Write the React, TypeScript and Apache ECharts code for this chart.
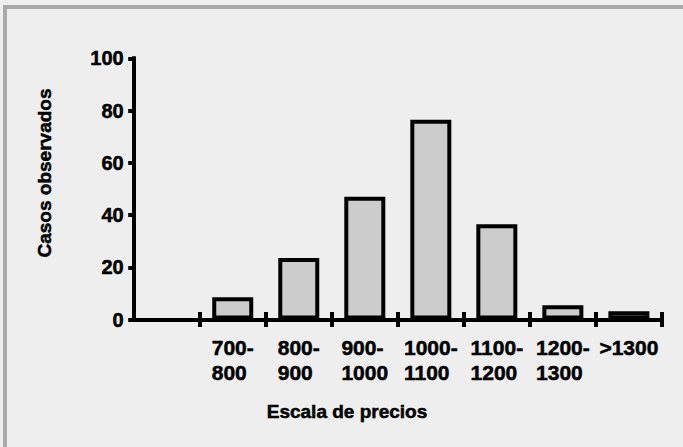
import React, { useEffect, useRef } from "react";
import * as echarts from "echarts";

const categories = ["", "700-\n800", "800-\n900", "900-\n1000", "1000-\n1100", "1100-\n1200", "1200-\n1300", ">1300"];
const counts: (number | string)[] = ["-", 8.5, 23.5, 47, 76.5, 36.5, 5.5, 3.2];
const yMin = 0;
const yMax = 100;
const yStep = 20;
const yTitle = "Casos observados";
const xTitle = "Escala de precios";

const FONT = "'Liberation Sans', Arial, Helvetica, sans-serif";
const HEAVY = { textBorderColor: "#000", textBorderWidth: 0.5 };

export default function App() {
  const ref = useRef<HTMLDivElement>(null);
  useEffect(() => {
    if (!ref.current) return;
    const chart = echarts.init(ref.current, undefined, { renderer: "svg" });
    const gridLeft = 133.7;
    const gridTop = 58.3;
    const gridW = 528.2;
    const gridH = 261.2;
    chart.setOption({
      animation: false,
      backgroundColor: "#eeeeee",
      grid: { left: gridLeft, top: gridTop, width: gridW, height: gridH, containLabel: false },
      xAxis: [
        {
          type: "category",
          data: categories,
          boundaryGap: true,
          axisLine: { show: true, lineStyle: { color: "#000", width: 4, cap: "square" } },
          axisTick: {
            show: true,
            length: 7.5,
            inside: false,
            interval: (i: number) => i !== 0,
            lineStyle: { color: "#000", width: 4 },
          },
          axisLabel: {
            margin: 15,
            interval: 0,
            color: "#000",
            fontFamily: FONT,
            fontWeight: "bold",
            fontSize: 21,
            lineHeight: 25,
            formatter: (v: string) =>
              v
                .split("\n")
                .map((l) => `{a|${l}}`)
                .join("\n"),
            rich: {
              a: {
                align: "left",
                color: "#000",
                fontFamily: FONT,
                fontWeight: "bold",
                fontSize: 21,
                lineHeight: 25,
                ...HEAVY,
              },
            },
          },
          splitLine: { show: false },
        },
        {
          type: "category",
          data: categories,
          position: "bottom",
          boundaryGap: true,
          axisLine: { show: false },
          axisTick: {
            show: true,
            length: 7.5,
            inside: true,
            interval: (i: number) => i !== 0,
            lineStyle: { color: "#000", width: 4 },
          },
          axisLabel: { show: false },
          splitLine: { show: false },
        },
      ],
      yAxis: {
        type: "value",
        min: yMin,
        max: yMax,
        interval: yStep,
        axisLine: { show: true, lineStyle: { color: "#000", width: 4, cap: "square" } },
        axisTick: { show: true, length: 5.5, lineStyle: { color: "#000", width: 4 } },
        axisLabel: {
          margin: 10,
          color: "#000",
          fontFamily: FONT,
          fontWeight: "bold",
          fontSize: 20,
          ...HEAVY,
        },
        splitLine: { show: false },
      },
      series: [
        {
          type: "bar",
          data: counts,
          barWidth: 41,
          itemStyle: { color: "#cccccc", borderColor: "#000", borderWidth: 4 },
        },
      ],
      graphic: [
        { type: "rect", shape: { x: 3, y: 5, width: 680, height: 4 }, style: { fill: "#a9a9a9" }, z: 10 },
        { type: "rect", shape: { x: 3, y: 5, width: 4, height: 442 }, style: { fill: "#a9a9a9" }, z: 10 },
        {
          type: "text",
          x: 44,
          y: 173,
          rotation: Math.PI / 2,
          style: {
            text: yTitle,
            fill: "#000",
            fontFamily: FONT,
            fontWeight: "bold",
            fontSize: 19,
            align: "center",
            verticalAlign: "middle",
            stroke: "#000",
            lineWidth: 0.5,
          },
        },
        {
          type: "text",
          x: 347,
          y: 411,
          style: {
            text: xTitle,
            fill: "#000",
            fontFamily: FONT,
            fontWeight: "bold",
            fontSize: 19,
            align: "center",
            verticalAlign: "middle",
            stroke: "#000",
            lineWidth: 0.5,
          },
        },
      ],
    });
    return () => chart.dispose();
  }, []);
  return (
    <div
      ref={ref}
      style={{ position: "fixed", left: 0, top: 0, width: 683, height: 447 }}
    />
  );
}
